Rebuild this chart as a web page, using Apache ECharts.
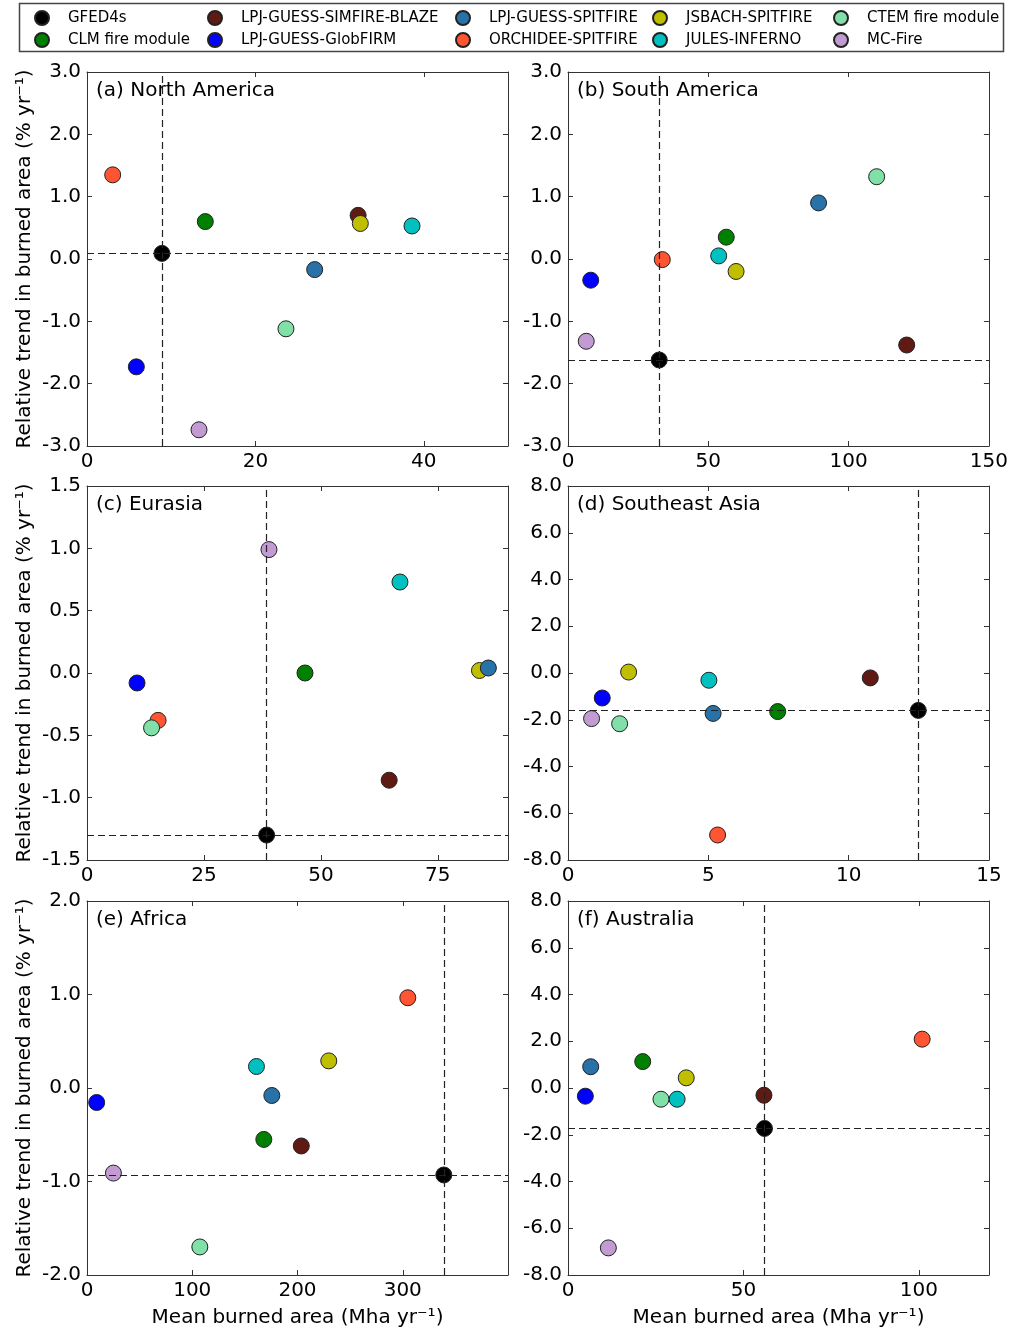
<!DOCTYPE html>
<html>
<head>
<meta charset="utf-8">
<script src="https://cdn.jsdelivr.net/npm/echarts@6/dist/echarts.min.js"></script>
<style>
  html, body { margin: 0; padding: 0; background: #fff; }
  #chart { width: 1011px; height: 1329px; }
</style>
</head>
<body>
<div id="chart"></div>
<script>
// draw order of the models (legend order is set separately below)
const models = ['GFED4s', 'CLM fire module', 'LPJ-GUESS-SIMFIRE-BLAZE', 'LPJ-GUESS-GlobFIRM',
  'ORCHIDEE-SPITFIRE', 'JSBACH-SPITFIRE', 'LPJ-GUESS-SPITFIRE', 'JULES-INFERNO',
  'CTEM fire module', 'MC-Fire'];
const colors = ['#000000', '#008000', '#5f1a13', '#0000ff', '#ff5533', '#bfbf00',
  '#2872a8', '#00c0c0', '#80e0a8', '#c39bd3'];

// mean burned area (Mha/yr) and relative trend (%/yr), same order as models
const naX = [8.9, 14.05, 32.2, 5.86, 3.05, 32.46, 27.04, 38.6, 23.63, 13.3];
const naY = [0.09, 0.60, 0.70, -1.73, 1.35, 0.57, -0.17, 0.53, -1.12, -2.74];
const saX = [32.5, 56.4, 120.7, 8.1, 33.6, 59.9, 89.3, 53.7, 110.0, 6.5];
const saY = [-1.62, 0.35, -1.38, -0.34, -0.01, -0.20, 0.90, 0.05, 1.32, -1.32];
const euX = [38.4, 46.6, 64.6, 10.7, 15.2, 83.9, 85.8, 66.9, 13.8, 38.9];
const euY = [-1.30, 0.00, -0.86, -0.08, -0.38, 0.02, 0.04, 0.73, -0.44, 0.99];
const seaX = [12.48, 7.47, 10.77, 1.22, 5.33, 2.16, 5.17, 5.02, 1.84, 0.84];
const seaY = [-1.60, -1.65, -0.21, -1.07, -6.93, 0.04, -1.73, -0.31, -2.17, -1.95];
const afX = [339, 168, 203.6, 9.2, 304.8, 229.7, 175.6, 161, 107.2, 25.1];
const afY = [-0.93, -0.55, -0.62, -0.155, 0.965, 0.29, -0.08, 0.23, -1.70, -0.91];
const auX = [56.0, 21.3, 55.85, 4.95, 100.95, 33.7, 6.47, 31.1, 26.5, 11.5];
const auY = [-1.73, 1.13, -0.31, -0.35, 2.09, 0.435, 0.91, -0.48, -0.48, -6.84];

const titles = ['(a) North America', '(b) South America', '(c) Eurasia',
  '(d) Southeast Asia', '(e) Africa', '(f) Australia'];
const xMax = [50, 150, 90, 15, 400, 120];
const xStep = [20, 50, 25, 5, 100, 50];
const yMin = [-3, -3, -1.5, -8, -2, -8];
const yMax = [3, 3, 1.5, 8, 2, 8];
const yStep = [1, 1, 0.5, 2, 1, 2];

const panelX = [naX, saX, euX, seaX, afX, auX];
const panelY = [naY, saY, euY, seaY, afY, auY];

const legendCols = [
  ['GFED4s', 'CLM fire module'],
  ['LPJ-GUESS-SIMFIRE-BLAZE', 'LPJ-GUESS-GlobFIRM'],
  ['LPJ-GUESS-SPITFIRE', 'ORCHIDEE-SPITFIRE'],
  ['JSBACH-SPITFIRE', 'JULES-INFERNO'],
  ['CTEM fire module', 'MC-Fire']
];
const legendLeft = [29, 202, 450, 647, 828];

const font = 'DejaVu Sans';
const lefts = [87, 568];
const tops = [72, 486, 901];

const grid = [], xAxis = [], yAxis = [], series = [], title = [];

for (let p = 0; p < 6; p++) {
  const left = lefts[p % 2], top = tops[Math.floor(p / 2)];
  grid.push({ left: left, top: top, width: 421, height: 374 });
  title.push({
    text: titles[p], left: left + 9, top: top + 9, padding: 0,
    textStyle: { fontFamily: font, fontSize: 20, fontWeight: 'normal', color: '#000' }
  });

  const xBase = {
    type: 'value', gridIndex: p, min: 0, max: xMax[p], interval: xStep[p],
    splitLine: { show: false },
    axisLine: { onZero: false, lineStyle: { color: '#333', width: 1 } },
    axisTick: { inside: true, length: 5, lineStyle: { color: '#333' } }
  };
  xAxis.push(Object.assign({}, xBase, {
    position: 'bottom',
    axisLabel: {
      fontFamily: font, fontSize: 20, color: '#000', margin: 6,
      showMaxLabel: xMax[p] % xStep[p] === 0 && p !== 4
    },
    name: p >= 4 ? 'Mean burned area (Mha yr⁻¹)' : '',
    nameLocation: 'middle', nameGap: 33,
    nameTextStyle: { fontFamily: font, fontSize: 20, color: '#000' }
  }));
  xAxis.push(Object.assign({}, xBase, { position: 'top', axisLabel: { show: false } }));

  const yBase = {
    type: 'value', gridIndex: p, min: yMin[p], max: yMax[p], interval: yStep[p],
    splitLine: { show: false },
    axisLine: { show: true, onZero: false, lineStyle: { color: '#333', width: 1 } },
    axisTick: { show: true, inside: true, length: 5, lineStyle: { color: '#333' } }
  };
  yAxis.push(Object.assign({}, yBase, {
    position: 'left',
    axisLabel: {
      fontFamily: font, fontSize: 20, color: '#000', margin: 6,
      formatter: v => v.toFixed(1)
    },
    name: p % 2 === 0 ? 'Relative trend in burned area (% yr⁻¹)' : '',
    nameLocation: 'middle', nameGap: 52,
    nameTextStyle: { fontFamily: font, fontSize: 20, color: '#000' }
  }));
  yAxis.push(Object.assign({}, yBase, { position: 'right', axisLabel: { show: false } }));

  for (let m = 0; m < models.length; m++) {
    series.push({
      name: models[m], type: 'scatter', xAxisIndex: 2 * p, yAxisIndex: 2 * p,
      symbol: 'circle', symbolSize: 16,
      itemStyle: { color: colors[m], borderColor: '#222', borderWidth: 1, opacity: 1 },
      data: [[panelX[p][m], panelY[p][m]]],
      silent: true
    });
  }
  // dashed reference lines at the GFED4s value
  series.push({
    type: 'scatter', xAxisIndex: 2 * p, yAxisIndex: 2 * p, data: [], z: 5,
    markLine: {
      silent: true, symbol: 'none', animation: false,
      label: { show: false },
      lineStyle: { color: '#222', width: 1.2, type: [7, 4] },
      data: [{ xAxis: panelX[p][0] }, { yAxis: panelY[p][0] }]
    }
  });
}

const legend = legendCols.map((col, i) => ({
  data: col, orient: 'vertical', left: legendLeft[i], top: 5,
  itemWidth: 42, itemHeight: 14, itemGap: 6, icon: 'circle',
  selectedMode: false,
  textStyle: { fontFamily: font, fontSize: 15, color: '#000' }
}));

const chart = echarts.init(document.getElementById('chart'));
chart.setOption({
  animation: false,
  backgroundColor: '#fff',
  title: title,
  legend: legend,
  grid: grid,
  xAxis: xAxis,
  yAxis: yAxis,
  series: series,
  graphic: [{
    type: 'rect', shape: { x: 19.5, y: 3.5, width: 984, height: 48 },
    style: { fill: 'none', stroke: '#444', lineWidth: 1.5 }, z: -1
  }]
});
</script>
</body>
</html>
